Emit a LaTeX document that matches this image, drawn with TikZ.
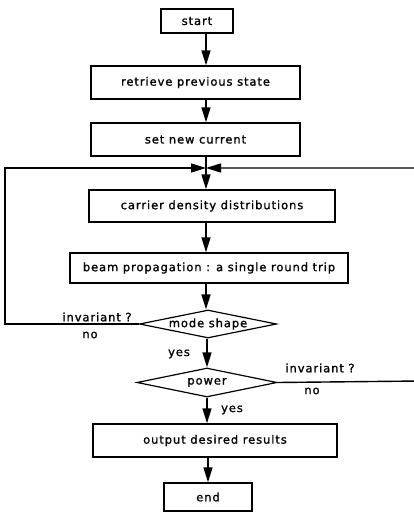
\documentclass[tikz,border=0pt]{standalone}
\usepackage{fontspec}
\setmainfont{DejaVu Sans}[LetterSpace=8.0,FakeBold=1.2]
\usetikzlibrary{arrows.meta,shapes.geometric}
\begin{document}
\begin{tikzpicture}[x=1pt,y=-1pt,
  every node/.style={font=\fontsize{11.5}{13}\selectfont, inner sep=0pt},
  box/.style={draw, line width=1.4pt, rectangle},
  dia/.style={draw, line width=1.2pt, diamond, shape aspect=5},
  lbl/.style={},
  link/.style={line width=1.4pt},
  arr/.style={line width=1.4pt, -{Triangle[length=15pt,width=9pt]}}]
\clip (0,0) rectangle (414,514);
\fill[white] (0,0) rectangle (414,514);
% boxes
\node[box, minimum width=72pt, minimum height=24pt] (start) at (197,21) {start};
\node[box, minimum width=209pt, minimum height=33pt] (retr) at (195.5,82.5) {retrieve previous state};
\node[box, minimum width=209pt, minimum height=33pt] (setc) at (195.5,139.5) {set new current};
\coordinate (J) at (206,168);
\node[box, minimum width=246pt, minimum height=32pt] (carr) at (212,206) {carrier density distributions};
\node[box, minimum width=278pt, minimum height=30pt] (beam) at (209,268) {beam propagation : a single round trip};
\node[dia, minimum width=137pt, minimum height=28pt] (mode) at (208,324) {mode shape};
\node[dia, minimum width=140pt, minimum height=29pt] (pow) at (207,382.5) {power};
\node[box, minimum width=244pt, minimum height=33pt] (outp) at (215,440.5) {output desired results};
\node[box, minimum width=88pt, minimum height=28pt] (endn) at (208,497) {end};
% labels
\node[lbl] (inv1) at (97,317) {invariant ?};
\node[lbl] (no1) at (90,335) {no};
\node[lbl] (yes1) at (179,354) {yes};
\node[lbl] (inv2) at (320,368) {invariant ?};
\node[lbl] (no2) at (312,391) {no};
\node[lbl] (yes2) at (232,410) {yes};
% helper coordinates
\coordinate (L1) at (5,324);
\coordinate (L2) at (5,168);
\coordinate (R1) at (420,381);
\coordinate (R2) at (420,168);
% connectors
\draw[arr] (start.south -| J) -- (retr.north -| J);
\draw[arr] (retr.south -| J) -- (setc.north -| J);
\draw[link] (setc.south -| J) -- (J);
\draw[arr] (J) -- (carr.north -| J);
\draw[arr] (carr.south -| J) -- (beam.north -| J);
\draw[arr] (beam.south -| J) -- (mode.north -| J);
\draw[arr] (mode.south -| pow) -- (pow.north);
\draw[arr] (pow.south) -- (outp.north -| pow);
\draw[arr] (outp.south -| endn) -- (endn.north);
\draw[arr] (mode.west) -- (L1) -- (L2) -- (J);
\draw[arr] (pow.east) -- (R1) -- (R2) -- (J);
\end{tikzpicture}
\end{document}
